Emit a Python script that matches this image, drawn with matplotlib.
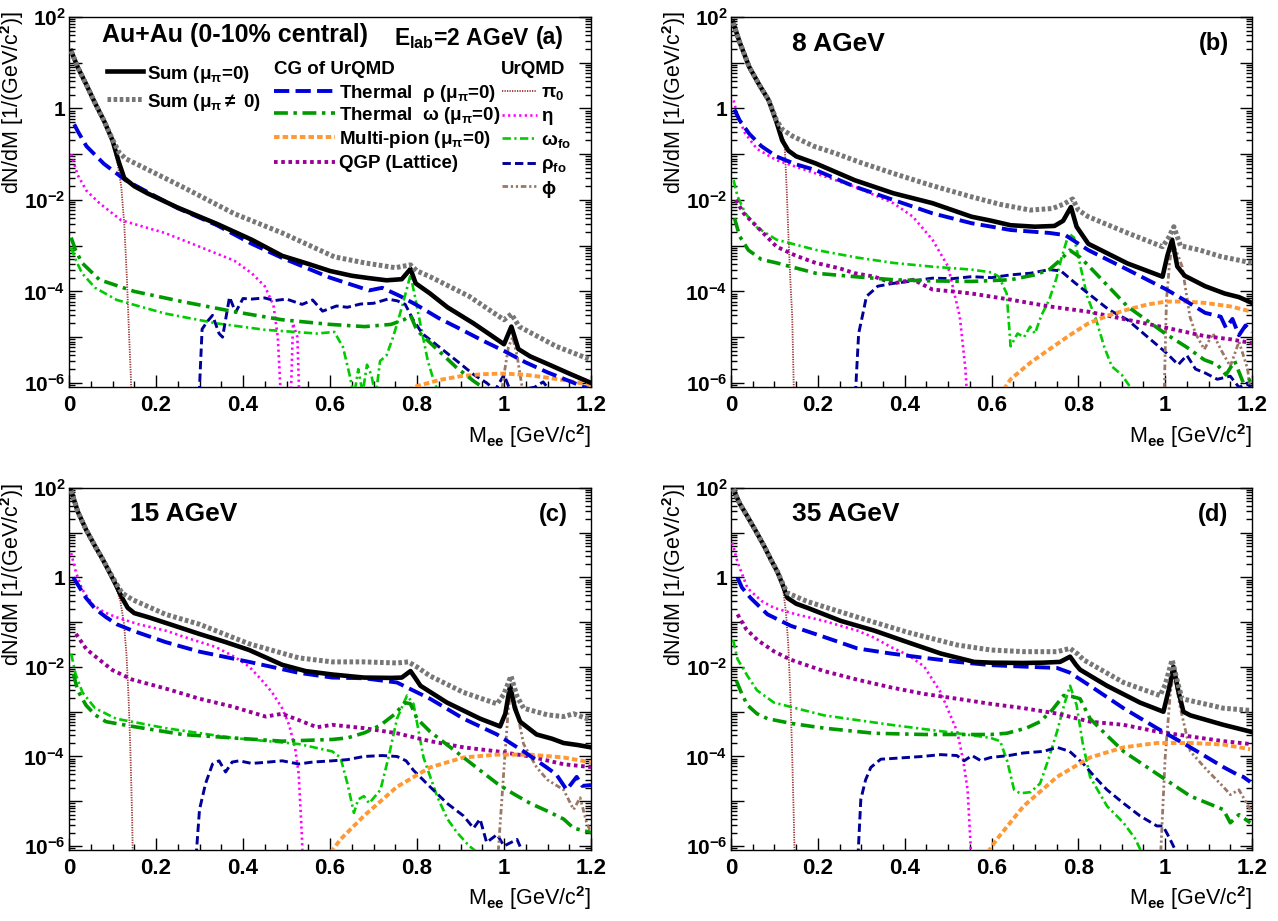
import numpy as np
import matplotlib
matplotlib.use("Agg")
import matplotlib.pyplot as plt
from matplotlib.lines import Line2D
from matplotlib.ticker import FixedLocator, MultipleLocator, FuncFormatter, NullFormatter

plt.rcParams.update({
    "font.family": ["Liberation Sans", "DejaVu Sans"],
    "font.weight": "bold",
    "mathtext.fontset": "custom",
    "mathtext.rm": "Liberation Sans:bold",
    "mathtext.it": "Liberation Sans:bold:italic",
    "mathtext.bf": "Liberation Sans:bold",
    "mathtext.sf": "Liberation Sans:bold",
    "mathtext.default": "rm",
    "lines.scale_dashes": False,
    "axes.linewidth": 1.0,
})

# ---------------- data: panel (a) 2 AGeV ----------------
m_sum0_a = [0.005, 0.02, 0.04, 0.06, 0.08, 0.10, 0.115, 0.127, 0.15, 0.18, 0.25, 0.34, 0.42, 0.49, 0.55, 0.60, 0.65, 0.69, 0.73, 0.765, 0.785, 0.797, 0.83, 0.87, 0.93, 0.97, 1.0, 1.017, 1.033, 1.06, 1.1, 1.15, 1.2]
y_sum0_a = [18, 8.0, 3.3, 1.3, 0.55, 0.2, 0.065, 0.03, 0.02, 0.014, 6.8e-3, 3.0e-3, 1.35e-3, 6.0e-4, 4.0e-4, 2.8e-4, 2.2e-4, 1.95e-4, 1.75e-4, 1.85e-4, 3.1e-4, 1.5e-4, 9.0e-5, 4.5e-5, 2.0e-5, 1.1e-5, 7e-6, 1.7e-5, 5.5e-6, 3.8e-6, 2.6e-6, 1.6e-6, 1.0e-6]
m_sumx_a = [0.005, 0.02, 0.04, 0.06, 0.08, 0.10, 0.115, 0.13, 0.17, 0.26, 0.38, 0.49, 0.61, 0.68, 0.75, 0.785, 0.80, 0.83, 0.92, 1.0, 1.017, 1.035, 1.12, 1.2]
y_sumx_a = [18, 8.0, 3.3, 1.3, 0.55, 0.21, 0.11, 0.08, 0.052, 0.0195, 5.0e-3, 1.9e-3, 5.7e-4, 4.2e-4, 3.3e-4, 3.8e-4, 2.8e-4, 2.1e-4, 7.8e-5, 2.4e-5, 3.2e-5, 1.7e-5, 6.3e-6, 3.2e-6]
m_thr_rho_a = [0.012, 0.02, 0.04, 0.08, 0.13, 0.18, 0.25, 0.34, 0.42, 0.49, 0.60, 0.65, 0.69, 0.72, 0.76, 0.80, 0.85, 0.90, 0.95, 1.0, 1.05, 1.1, 1.15, 1.2]
y_thr_rho_a = [0.45, 0.32, 0.15, 0.062, 0.027, 0.015, 6.6e-3, 2.8e-3, 1.1e-3, 5.4e-4, 2.0e-4, 1.4e-4, 1.05e-4, 1.2e-4, 8e-5, 5e-5, 2.6e-5, 1.5e-5, 8.5e-6, 5e-6, 2.8e-6, 1.7e-6, 1.1e-6, 7e-7]
m_thr_omega_a = [0.005, 0.015, 0.03, 0.07, 0.15, 0.26, 0.38, 0.49, 0.60, 0.68, 0.74, 0.77, 0.785, 0.80, 0.85, 0.89, 0.93, 0.97]
y_thr_omega_a = [1.5e-3, 8e-4, 4.2e-4, 1.8e-4, 1.0e-4, 6e-5, 3.6e-5, 2.4e-5, 1.9e-5, 1.7e-5, 1.9e-5, 2.4e-5, 3e-5, 1.4e-5, 5e-6, 2.2e-6, 1.1e-6, 6e-7]
m_omega_fo_a = [0.005, 0.015, 0.03, 0.06, 0.11, 0.22, 0.34, 0.45, 0.57, 0.61, 0.63, 0.645, 0.655, 0.665, 0.675, 0.685, 0.695, 0.705, 0.715, 0.73, 0.745, 0.76, 0.775, 0.785, 0.795, 0.81, 0.825, 0.84, 0.86]
y_omega_fo_a = [9e-4, 5e-4, 2.5e-4, 1.2e-4, 6.5e-5, 3.3e-5, 2e-5, 1.45e-5, 1.2e-5, 1.3e-5, 6e-6, 1.5e-6, 5e-7, 2e-6, 6e-7, 2.5e-6, 1.5e-6, 5e-7, 3e-6, 4e-6, 1e-5, 3e-5, 1e-4, 2.3e-4, 8e-5, 1.5e-5, 3e-6, 1e-6, 4e-7]
m_eta_a = [0.005, 0.02, 0.04, 0.07, 0.12, 0.22, 0.30, 0.38, 0.42, 0.45, 0.47, 0.48, 0.487, 0.50, 0.51, 0.515, 0.525, 0.53]
y_eta_a = [0.1, 0.035, 0.016, 8.5e-3, 3.6e-3, 1.9e-3, 9.5e-4, 4.7e-4, 2.5e-4, 1.3e-4, 5e-5, 1e-5, 5e-7, 3e-7, 5e-7, 2e-5, 1e-5, 3e-7]
m_pi0_a = [0.005, 0.02, 0.04, 0.06, 0.08, 0.10, 0.112, 0.12, 0.127, 0.133, 0.138, 0.142, 0.146]
y_pi0_a = [17.5, 7.8, 3.2, 1.25, 0.52, 0.18, 0.06, 0.02, 3e-3, 2e-4, 1.2e-5, 1.5e-6, 1e-7]
m_rho_fo_a = [0.298, 0.306, 0.318, 0.33, 0.345, 0.353, 0.369, 0.383, 0.40, 0.42, 0.45, 0.472, 0.50, 0.536, 0.56, 0.583, 0.615, 0.64, 0.67, 0.70, 0.733, 0.755, 0.773, 0.79, 0.812, 0.852, 0.892, 0.931, 0.96, 0.98, 1.0, 1.02, 1.05, 1.07, 1.09, 1.11, 1.13]
y_rho_fo_a = [3e-7, 1.5e-5, 2.2e-5, 3e-5, 1.2e-5, 1e-5, 7.5e-5, 3.5e-5, 7e-5, 6.8e-5, 7.2e-5, 6.3e-5, 6.8e-5, 5.2e-5, 6.5e-5, 3.7e-5, 4.8e-5, 4.5e-5, 5.3e-5, 5.5e-5, 6.8e-5, 6.2e-5, 5.2e-5, 2.5e-5, 1.2e-5, 6e-6, 3e-6, 1.5e-6, 1e-6, 7e-7, 1.5e-6, 5e-7, 7.4e-7, 8e-7, 1.05e-6, 6e-7, 4e-7]
m_multipi_a = [0.76, 0.80, 0.85, 0.90, 0.95, 1.0, 1.05, 1.10, 1.15, 1.2]
y_multipi_a = [6e-7, 8.5e-7, 1.15e-6, 1.4e-6, 1.55e-6, 1.6e-6, 1.5e-6, 1.3e-6, 1.1e-6, 9e-7]
m_phi_a = [0.99, 1.0, 1.01, 1.02, 1.03, 1.04, 1.05]
y_phi_a = [3e-7, 1.5e-6, 6e-6, 1.0e-5, 4e-6, 1e-6, 3e-7]

# ---------------- data: panel (b) 8 AGeV ----------------
m_sum0_b = [0.005, 0.02, 0.042, 0.065, 0.087, 0.105, 0.118, 0.132, 0.15, 0.195, 0.285, 0.374, 0.464, 0.554, 0.60, 0.644, 0.70, 0.745, 0.765, 0.783, 0.796, 0.823, 0.913, 0.994, 1.005, 1.016, 1.028, 1.045, 1.092, 1.137, 1.17, 1.2]
y_sum0_b = [75, 28, 8.1, 3.3, 1.5, 0.5, 0.2, 0.12, 0.09, 0.063, 0.027, 0.014, 8.5e-3, 4.3e-3, 3.5e-3, 2.8e-3, 2.6e-3, 2.7e-3, 3.5e-3, 7e-3, 2.6e-3, 1.1e-3, 4.1e-4, 2.1e-4, 6e-4, 1.35e-3, 3.5e-4, 2.2e-4, 1.3e-4, 9e-5, 7.5e-5, 5.6e-5]
m_sumx_b = [0.005, 0.02, 0.042, 0.065, 0.087, 0.105, 0.118, 0.141, 0.19, 0.24, 0.30, 0.374, 0.46, 0.554, 0.62, 0.689, 0.74, 0.765, 0.787, 0.80, 0.823, 0.87, 0.913, 0.994, 1.008, 1.02, 1.035, 1.08, 1.128, 1.2]
y_sumx_b = [75, 28, 8.1, 3.3, 1.5, 0.55, 0.35, 0.25, 0.15, 0.105, 0.065, 0.038, 0.021, 0.0117, 8e-3, 6e-3, 6.5e-3, 8e-3, 0.0105, 6e-3, 4.3e-3, 2.8e-3, 1.9e-3, 9.5e-4, 1.5e-3, 2.6e-3, 1.0e-3, 8e-4, 5.8e-4, 4.2e-4]
m_thr_rho_b = [0.008, 0.02, 0.042, 0.07, 0.105, 0.15, 0.195, 0.285, 0.374, 0.464, 0.554, 0.644, 0.733, 0.77, 0.823, 0.913, 1.003, 1.05, 1.092, 1.128, 1.14, 1.155, 1.17, 1.185, 1.2]
y_thr_rho_b = [0.95, 0.55, 0.28, 0.15, 0.089, 0.06, 0.045, 0.0195, 0.01, 5.1e-3, 3.1e-3, 2.2e-3, 1.9e-3, 1.7e-3, 8e-4, 3e-4, 1.1e-4, 6e-5, 3.4e-5, 2.8e-5, 1.6e-5, 2.5e-5, 1.1e-5, 1.8e-5, 1.3e-5]
m_thr_omega_b = [0.008, 0.02, 0.04, 0.07, 0.105, 0.195, 0.285, 0.374, 0.46, 0.554, 0.644, 0.70, 0.733, 0.76, 0.78, 0.805, 0.84, 0.913, 1.0, 1.05, 1.09, 1.12, 1.14, 1.16, 1.18, 1.2]
y_thr_omega_b = [4e-3, 1.6e-3, 8e-4, 5e-4, 4.2e-4, 2.5e-4, 2.1e-4, 1.8e-4, 1.7e-4, 1.65e-4, 1.8e-4, 2.3e-4, 3e-4, 5e-4, 8e-4, 5.5e-4, 2.5e-4, 4.7e-5, 1.2e-5, 6e-6, 3.2e-6, 2.5e-6, 1.5e-6, 3e-6, 1e-6, 1.2e-6]
m_omega_fo_b = [0.006, 0.015, 0.033, 0.06, 0.105, 0.195, 0.29, 0.374, 0.46, 0.554, 0.60, 0.617, 0.635, 0.644, 0.66, 0.675, 0.689, 0.70, 0.715, 0.733, 0.75, 0.76, 0.778, 0.79, 0.805, 0.82, 0.841, 0.86, 0.877, 0.90, 0.92, 0.95, 0.965]
y_omega_fo_b = [0.027, 0.012, 5.1e-3, 2.5e-3, 1.35e-3, 8.1e-4, 5.5e-4, 4.2e-4, 3.5e-4, 3e-4, 2.6e-4, 2.1e-4, 9e-5, 6.3e-6, 1.2e-5, 1e-5, 1.7e-5, 1.2e-5, 3e-5, 6.6e-5, 2e-4, 4.9e-4, 1.85e-3, 1.5e-3, 3.5e-4, 8e-5, 2.4e-5, 6e-6, 2.3e-6, 1.5e-6, 8e-7, 6e-7, 3e-7]
m_eta_b = [0.006, 0.015, 0.033, 0.06, 0.105, 0.195, 0.285, 0.374, 0.419, 0.464, 0.50, 0.527, 0.54, 0.548]
y_eta_b = [1.5, 0.7, 0.28, 0.13, 0.074, 0.038, 0.0195, 8.5e-3, 4.3e-3, 1.35e-3, 3.5e-4, 2.8e-5, 2e-6, 1e-7]
m_pi0_b = [0.005, 0.02, 0.042, 0.065, 0.087, 0.105, 0.115, 0.123, 0.128, 0.132, 0.137, 0.141, 0.145]
y_pi0_b = [74, 27.5, 8.0, 3.2, 1.45, 0.45, 0.25, 0.2, 0.02, 1.9e-3, 1.5e-4, 2.8e-5, 5e-7]
m_qgp_b = [0.011, 0.03, 0.06, 0.105, 0.15, 0.195, 0.25, 0.285, 0.33, 0.374, 0.42, 0.464, 0.51, 0.554, 0.644, 0.733, 0.823, 0.913, 1.003, 1.092, 1.15, 1.2]
y_qgp_b = [0.01, 5e-3, 2.6e-3, 9.5e-4, 6e-4, 4.2e-4, 3.2e-4, 2.5e-4, 2.1e-4, 1.5e-4, 1.8e-4, 1.1e-4, 1.0e-4, 9e-5, 6.6e-5, 4.7e-5, 3.6e-5, 2.4e-5, 1.6e-5, 1.05e-5, 9e-6, 7.4e-6]
m_rho_fo_b = [0.285, 0.294, 0.303, 0.312, 0.325, 0.338, 0.374, 0.42, 0.464, 0.51, 0.554, 0.60, 0.644, 0.69, 0.733, 0.76, 0.79, 0.823, 0.87, 0.913, 0.96, 1.003, 1.03, 1.05, 1.07, 1.092, 1.12, 1.15, 1.17, 1.19, 1.2]
y_rho_fo_b = [3e-7, 1.2e-5, 3e-5, 7.8e-5, 1e-4, 1.3e-4, 1.5e-4, 1.7e-4, 1.95e-4, 1.9e-4, 2.1e-4, 2.0e-4, 2.3e-4, 2.5e-4, 3e-4, 2.8e-4, 1.6e-4, 9e-5, 4e-5, 2.4e-5, 1e-5, 4.5e-6, 2.5e-6, 4e-6, 2e-6, 1.65e-6, 1.2e-6, 1.4e-6, 8e-7, 1e-6, 7e-7]
m_multipi_b = [0.617, 0.644, 0.69, 0.733, 0.78, 0.823, 0.87, 0.913, 0.96, 1.003, 1.05, 1.092, 1.15, 1.2]
y_multipi_b = [5e-7, 1.2e-6, 2.8e-6, 5.4e-6, 1.1e-5, 2e-5, 3e-5, 4e-5, 5.2e-5, 6e-5, 6e-5, 5.6e-5, 4.7e-5, 3.6e-5]
m_phi_b = [0.997, 1.003, 1.01, 1.016, 1.022, 1.03, 1.039, 1.048, 1.057, 1.07, 1.09, 1.11, 1.13, 1.15, 1.17, 1.19, 1.2]
y_phi_b = [3e-7, 6.6e-5, 4e-4, 1.1e-3, 9e-4, 6e-4, 3.5e-4, 1e-4, 2.8e-5, 1.2e-5, 5.4e-6, 1.2e-5, 5e-6, 2.3e-6, 8e-6, 2e-6, 3e-7]

# ---------------- data: panel (c) 15 AGeV ----------------
m_sum0_c = [0.005, 0.02, 0.039, 0.06, 0.077, 0.095, 0.108, 0.122, 0.135, 0.15, 0.184, 0.24, 0.299, 0.36, 0.414, 0.49, 0.544, 0.605, 0.678, 0.74, 0.765, 0.785, 0.797, 0.808, 0.869, 0.945, 0.991, 1.003, 1.014, 1.025, 1.037, 1.075, 1.11, 1.137, 1.17, 1.2]
y_sum0_c = [87, 30, 11.8, 5.0, 2.6, 1.2, 0.68, 0.35, 0.21, 0.16, 0.128, 0.085, 0.055, 0.036, 0.024, 0.0112, 8.1e-3, 6.8e-3, 5.8e-3, 5.7e-3, 5.8e-3, 8.1e-3, 5.5e-3, 3.8e-3, 1.6e-3, 7e-4, 4.7e-4, 9e-4, 3.8e-3, 1.2e-3, 6e-4, 3.1e-4, 2.5e-4, 2e-4, 1.8e-4, 1.6e-4]
m_sumx_c = [0.005, 0.02, 0.039, 0.06, 0.077, 0.095, 0.108, 0.122, 0.146, 0.222, 0.30, 0.414, 0.528, 0.605, 0.678, 0.754, 0.78, 0.80, 0.83, 0.907, 0.984, 1.0, 1.016, 1.03, 1.045, 1.1, 1.137, 1.16, 1.2]
y_sumx_c = [87, 30, 11.8, 5.0, 2.6, 1.25, 0.75, 0.45, 0.32, 0.15, 0.09, 0.033, 0.016, 0.013, 0.013, 0.0123, 0.013, 0.01, 6.3e-3, 2.7e-3, 1.5e-3, 2.5e-3, 6.3e-3, 2.2e-3, 1.2e-3, 8.5e-4, 7.8e-4, 9e-4, 6.5e-4]
m_thr_rho_c = [0.01, 0.02, 0.039, 0.06, 0.085, 0.11, 0.146, 0.222, 0.30, 0.414, 0.528, 0.605, 0.678, 0.754, 0.83, 0.907, 0.984, 1.045, 1.098, 1.12, 1.144, 1.167, 1.18, 1.2]
y_thr_rho_c = [1.0, 0.7, 0.35, 0.2, 0.13, 0.09, 0.065, 0.036, 0.022, 0.013, 7.4e-3, 5.8e-3, 5.6e-3, 4.5e-3, 1.95e-3, 7e-4, 3.1e-4, 1.3e-4, 5.7e-5, 4e-5, 1.8e-5, 3.5e-5, 2.2e-5, 2.3e-5]
m_thr_omega_c = [0.01, 0.02, 0.039, 0.06, 0.085, 0.146, 0.261, 0.376, 0.49, 0.605, 0.64, 0.68, 0.716, 0.75, 0.772, 0.785, 0.80, 0.83, 0.87, 0.907, 0.95, 0.984, 1.02, 1.06, 1.1, 1.137, 1.16, 1.2]
y_thr_omega_c = [7e-3, 3e-3, 1.4e-3, 8.5e-4, 6e-4, 4.7e-4, 3.1e-4, 2.6e-4, 2.2e-4, 2.4e-4, 2.6e-4, 3.4e-4, 5e-4, 9e-4, 1.6e-3, 1.5e-3, 7e-4, 3.6e-4, 1.8e-4, 9.5e-5, 4.5e-5, 2.5e-5, 1.5e-5, 9e-6, 6e-6, 4e-6, 2.5e-6, 2e-6]
m_omega_fo_c = [0.005, 0.015, 0.031, 0.06, 0.108, 0.222, 0.376, 0.528, 0.605, 0.624, 0.64, 0.655, 0.665, 0.678, 0.69, 0.716, 0.735, 0.754, 0.777, 0.792, 0.815, 0.846, 0.87, 0.892, 0.92, 0.94, 0.96]
y_omega_fo_c = [0.02, 7e-3, 2.7e-3, 1.2e-3, 7e-4, 4.3e-4, 2.6e-4, 1.9e-4, 1.3e-4, 9.5e-5, 2.5e-5, 5.5e-6, 1.1e-5, 1.3e-5, 9e-6, 1.8e-5, 1e-4, 7e-4, 2.3e-3, 1.5e-3, 9.5e-5, 1.3e-5, 4e-6, 2e-6, 1e-6, 7e-7, 3e-7]
m_eta_c = [0.005, 0.016, 0.03, 0.054, 0.08, 0.108, 0.16, 0.222, 0.28, 0.337, 0.38, 0.414, 0.44, 0.467, 0.49, 0.506, 0.52, 0.528, 0.535, 0.54]
y_eta_c = [3.5, 1.3, 0.55, 0.25, 0.17, 0.13, 0.09, 0.065, 0.042, 0.028, 0.017, 0.0102, 5.5e-3, 2.7e-3, 1.2e-3, 5.1e-4, 1.5e-4, 4.1e-5, 2e-6, 1e-7]
m_pi0_c = [0.005, 0.02, 0.039, 0.06, 0.077, 0.095, 0.108, 0.118, 0.126, 0.132, 0.137, 0.141, 0.145, 0.148]
y_pi0_c = [86, 29.5, 11.5, 4.9, 2.5, 1.15, 0.6, 0.3, 0.1, 0.02, 2e-3, 1.5e-4, 5e-6, 1e-7]
m_qgp_c = [0.016, 0.04, 0.07, 0.1, 0.146, 0.222, 0.30, 0.376, 0.452, 0.49, 0.528, 0.57, 0.605, 0.678, 0.754, 0.83, 0.907, 0.984, 1.06, 1.137, 1.2]
y_qgp_c = [0.055, 0.025, 0.0145, 8.5e-3, 5.2e-3, 3.3e-3, 1.95e-3, 1.3e-3, 7.8e-4, 9e-4, 6.5e-4, 4.5e-4, 5.1e-4, 4.3e-4, 3.3e-4, 2.2e-4, 1.6e-4, 1.3e-4, 1.0e-4, 6.7e-5, 5.8e-5]
m_rho_fo_c = [0.29, 0.30, 0.314, 0.33, 0.345, 0.36, 0.375, 0.391, 0.42, 0.452, 0.49, 0.528, 0.56, 0.605, 0.64, 0.678, 0.72, 0.754, 0.775, 0.792, 0.83, 0.869, 0.907, 0.93, 0.945, 0.96, 0.984, 1.0, 1.03, 1.05, 1.07]
y_rho_fo_c = [3e-7, 6.5e-6, 2.5e-5, 6.8e-5, 8e-5, 4.5e-5, 7.5e-5, 8e-5, 7e-5, 7.4e-5, 8e-5, 6.8e-5, 7.5e-5, 8e-5, 8.5e-5, 1e-4, 1.05e-4, 1e-4, 8e-5, 4.9e-5, 2.1e-5, 9e-6, 4.7e-6, 2.5e-6, 4e-6, 1.2e-6, 1.8e-6, 1e-6, 1.4e-6, 5e-7, 3e-7]
m_multipi_c = [0.59, 0.624, 0.678, 0.754, 0.83, 0.907, 0.984, 1.06, 1.137, 1.2]
y_multipi_c = [5e-7, 1.4e-6, 4.7e-6, 2.1e-5, 5.7e-5, 9.5e-5, 1.1e-4, 1.1e-4, 9.5e-5, 7.4e-5]
m_phi_c = [0.984, 0.999, 1.01, 1.018, 1.03, 1.045, 1.075, 1.1, 1.137, 1.16, 1.175, 1.19, 1.2]
y_phi_c = [3e-7, 4e-5, 1.2e-3, 3.5e-3, 1e-3, 1.9e-4, 5.7e-5, 3e-5, 1.8e-5, 6.5e-6, 1.2e-5, 3.3e-6, 2e-6]

# ---------------- data: panel (d) 35 AGeV ----------------
m_sum0_d = [0.005, 0.02, 0.038, 0.057, 0.076, 0.092, 0.107, 0.12, 0.13, 0.15, 0.176, 0.253, 0.33, 0.406, 0.483, 0.56, 0.598, 0.674, 0.72, 0.758, 0.781, 0.795, 0.804, 0.866, 0.942, 0.996, 1.008, 1.019, 1.03, 1.042, 1.058, 1.134, 1.196]
y_sum0_d = [95, 45, 23, 11, 5.1, 2.5, 1.33, 0.65, 0.35, 0.26, 0.21, 0.107, 0.065, 0.036, 0.02, 0.013, 0.0125, 0.0123, 0.0125, 0.013, 0.017, 0.011, 8.7e-3, 3.8e-3, 1.6e-3, 1e-3, 3e-3, 0.0102, 3e-3, 1e-3, 8.3e-4, 5.1e-4, 3.6e-4]
m_sumx_d = [0.005, 0.02, 0.038, 0.057, 0.076, 0.092, 0.107, 0.12, 0.13, 0.176, 0.291, 0.406, 0.521, 0.598, 0.674, 0.751, 0.781, 0.80, 0.812, 0.904, 0.988, 1.0, 1.016, 1.03, 1.039, 1.134, 1.196]
y_sumx_d = [95, 45, 23, 11, 5.1, 2.5, 1.35, 0.7, 0.45, 0.29, 0.13, 0.06, 0.031, 0.024, 0.022, 0.022, 0.026, 0.019, 0.0145, 4.5e-3, 2.3e-3, 4e-3, 0.0145, 4e-3, 1.95e-3, 1.2e-3, 1.07e-3]
m_thr_rho_d = [0.015, 0.025, 0.045, 0.084, 0.138, 0.214, 0.291, 0.368, 0.445, 0.521, 0.598, 0.674, 0.751, 0.78, 0.827, 0.904, 0.981, 1.058, 1.134, 1.165, 1.18, 1.196]
y_thr_rho_d = [1.0, 0.6, 0.35, 0.15, 0.083, 0.047, 0.026, 0.02, 0.016, 0.013, 0.011, 0.0102, 9.5e-3, 7.5e-3, 3.8e-3, 1.2e-3, 4.3e-4, 1.6e-4, 5.8e-5, 4e-5, 3.5e-5, 2.7e-5]
m_thr_omega_d = [0.012, 0.025, 0.038, 0.06, 0.084, 0.138, 0.214, 0.33, 0.445, 0.598, 0.635, 0.68, 0.712, 0.74, 0.766, 0.785, 0.804, 0.827, 0.87, 0.904, 0.981, 1.058, 1.134, 1.15, 1.17, 1.196]
y_thr_omega_d = [5e-3, 2.5e-3, 1.4e-3, 9e-4, 7e-4, 5.5e-4, 4.3e-4, 3.3e-4, 3.1e-4, 3.1e-4, 3.3e-4, 4.3e-4, 6e-4, 1.1e-3, 2.3e-3, 2.2e-3, 1.95e-3, 7e-4, 2.7e-4, 1.3e-4, 4.1e-5, 1.3e-5, 6.5e-6, 3.3e-6, 5e-6, 3.3e-6]
m_omega_fo_d = [0.005, 0.015, 0.038, 0.06, 0.099, 0.214, 0.368, 0.521, 0.598, 0.62, 0.636, 0.652, 0.666, 0.69, 0.712, 0.73, 0.751, 0.768, 0.781, 0.796, 0.81, 0.827, 0.866, 0.904, 0.93, 0.95]
y_omega_fo_d = [0.04, 0.015, 6.3e-3, 3e-3, 1.6e-3, 8.3e-4, 5.1e-4, 3.3e-4, 2.6e-4, 2.2e-4, 8e-5, 1.8e-5, 1.5e-5, 1.6e-5, 2.5e-5, 8e-5, 3.6e-4, 1.5e-3, 3.8e-3, 1.4e-3, 2e-4, 3.5e-5, 7.8e-6, 3.3e-6, 1.5e-6, 6e-7]
m_eta_d = [0.003, 0.015, 0.038, 0.07, 0.099, 0.15, 0.214, 0.291, 0.33, 0.368, 0.41, 0.445, 0.483, 0.521, 0.535, 0.545, 0.552, 0.556]
y_eta_d = [6.0, 2.2, 0.58, 0.3, 0.21, 0.15, 0.107, 0.065, 0.045, 0.028, 0.018, 0.0102, 2.7e-3, 3.6e-4, 8e-5, 1.8e-5, 1e-6, 1e-7]
m_pi0_d = [0.005, 0.02, 0.038, 0.057, 0.076, 0.092, 0.107, 0.12, 0.127, 0.132, 0.137, 0.141, 0.145, 0.148]
y_pi0_d = [94, 44, 22.5, 10.5, 5.0, 2.4, 1.3, 0.55, 0.15, 0.03, 2e-3, 1e-4, 3e-6, 1e-7]
m_qgp_d = [0.015, 0.035, 0.061, 0.1, 0.138, 0.214, 0.291, 0.368, 0.445, 0.521, 0.598, 0.674, 0.751, 0.827, 0.904, 0.981, 1.058, 1.134, 1.196]
y_qgp_d = [0.15, 0.07, 0.04, 0.022, 0.0145, 8.1e-3, 5.2e-3, 3.5e-3, 2.5e-3, 1.95e-3, 1.5e-3, 1.2e-3, 9.1e-4, 6e-4, 5.1e-4, 3.6e-4, 2.8e-4, 2.2e-4, 1.9e-4]
m_rho_fo_d = [0.291, 0.299, 0.31, 0.322, 0.345, 0.37, 0.406, 0.44, 0.483, 0.52, 0.537, 0.555, 0.575, 0.598, 0.64, 0.674, 0.72, 0.751, 0.78, 0.812, 0.84, 0.866, 0.904, 0.942, 0.981, 0.995, 1.01, 1.03, 1.05]
y_rho_fo_d = [3e-7, 1.1e-5, 3e-5, 5.7e-5, 8.7e-5, 9e-5, 9.5e-5, 1.0e-4, 1.1e-4, 1.05e-4, 8e-5, 1.05e-4, 8.1e-5, 9.5e-5, 1.05e-4, 1.2e-4, 1.3e-4, 1.6e-4, 1.3e-4, 6.8e-5, 3.3e-5, 1.8e-5, 9e-6, 4.7e-6, 2.8e-6, 2.8e-6, 1.5e-6, 6e-7, 3e-7]
m_multipi_d = [0.58, 0.612, 0.674, 0.751, 0.827, 0.904, 0.981, 1.058, 1.134, 1.196]
y_multipi_d = [5e-7, 1.4e-6, 7.8e-6, 3.5e-5, 9.5e-5, 1.6e-4, 2e-4, 2e-4, 1.85e-4, 1.45e-4]
m_phi_d = [0.988, 1.0, 1.012, 1.02, 1.035, 1.058, 1.096, 1.134, 1.15, 1.17, 1.196]
y_phi_d = [3e-7, 9.5e-5, 2.7e-3, 8e-3, 1.2e-3, 1.3e-4, 5e-5, 2.1e-5, 1.4e-5, 1.8e-5, 6.5e-6]

# panel labels / ticks
energy_labels = ["", "8 AGeV", "15 AGeV", "35 AGeV"]
panel_tags = ["(a)", "(b)", "(c)", "(d)"]
x_ticks = [0, 0.2, 0.4, 0.6, 0.8, 1.0, 1.2]
y_decades = [-6, -5, -4, -3, -2, -1, 0, 1, 2]

# ---------------- styles ----------------
STYLE = {
    "pi0":       dict(color="#993333", lw=1.3, dashes=(0.9, 0.9), zorder=3),
    "eta":       dict(color="#ff00ff", lw=1.9, dashes=(1.6, 2.4), zorder=3),
    "omega_fo":  dict(color="#00cc00", lw=1.9, dashes=(6, 2.5, 1.6, 2.5), zorder=3),
    "rho_fo":    dict(color="#000099", lw=2.1, dashes=(6, 3), zorder=3),
    "phi":       dict(color="#9a7766", lw=2.0, dashes=(4, 2, 1.6, 2, 1.6, 2), zorder=3),
    "qgp":       dict(color="#990099", lw=2.8, dashes=(2.6, 2.6), zorder=4),
    "multipi":   dict(color="#ff9933", lw=2.8, dashes=(4, 2.2), zorder=4),
    "thr_omega": dict(color="#009900", lw=2.6, dashes=(10, 4, 2.5, 4), zorder=5),
    "thr_rho":   dict(color="#0000dd", lw=2.8, dashes=(11, 4.5), zorder=6),
    "sum0":      dict(color="black", lw=3.3, ls="-", zorder=8),
    "sumx":      dict(color="#777777", lw=3.6, dashes=(2.6, 1.8), zorder=9),
}
ORDER = ["pi0", "eta", "omega_fo", "rho_fo", "phi", "qgp", "multipi",
         "thr_omega", "thr_rho", "sum0", "sumx"]

g = globals()
PANELS = []
for p in "abcd":
    d = {}
    for k in ORDER:
        if ("m_%s_%s" % (k, p)) in g:
            d[k] = (g["m_%s_%s" % (k, p)], g["y_%s_%s" % (k, p)])
    PANELS.append(d)

W, H = 1278, 921
fig = plt.figure(figsize=(W / 100, H / 100), dpi=100)


def pos(l, r, t, b):
    return [l / W, 1 - b / H, (r - l) / W, (b - t) / H]


boxes = [pos(69, 591, 17, 387), pos(731, 1252, 17, 387),
         pos(69, 591, 488, 850), pos(731, 1252, 488, 850)]
YMIN = 10 ** -6.09

major_y = [10.0 ** e for e in y_decades]
minor_y = [s * 10.0 ** e for e in range(-7, 2) for s in range(2, 10)
           if YMIN <= s * 10.0 ** e <= 100]


def yfmt(v, p):
    e = int(round(np.log10(v)))
    if e % 2:
        return ""
    if e == 0:
        return "1"
    return r"$10^{%d}$" % e


axes = []
for i, box in enumerate(boxes):
    ax = fig.add_axes(box)
    axes.append(ax)
    for k in ORDER:
        if k in PANELS[i]:
            m, y = PANELS[i][k]
            ax.plot(m, y, **STYLE[k])
    ax.set_xlim(0, 1.2)
    ax.set_yscale("log")
    ax.set_ylim(YMIN, 100)
    ax.set_xticks(x_ticks)
    ax.xaxis.set_minor_locator(MultipleLocator(0.05))
    ax.xaxis.set_major_formatter(FuncFormatter(lambda v, p: "%g" % round(v, 2)))
    ax.yaxis.set_major_locator(FixedLocator(major_y))
    ax.yaxis.set_minor_locator(FixedLocator(minor_y))
    ax.yaxis.set_minor_formatter(NullFormatter())
    ax.yaxis.set_major_formatter(FuncFormatter(yfmt))
    ax.tick_params(which="both", direction="in", top=False, right=True)
    ax.tick_params(axis="x", labelsize=16, pad=6)
    ax.tick_params(axis="y", labelsize=15, pad=2.5)
    ax.tick_params(which="major", length=9, width=1)
    ax.tick_params(which="minor", length=4.5, width=1)
    ax.set_ylabel(r"dN/dM [1/(GeV/c$^{2}$)]", fontsize=15.5, loc="top")
    ax.yaxis.set_label_coords(-0.082, 1.015)
    ax.set_xlabel(r"M$_{ee}$ [GeV/c$^{2}$]", fontsize=15.5, loc="right")
    ax.xaxis.set_label_coords(1.0, -0.095)
    if i > 0:
        ax.text(0.117, 0.928, energy_labels[i], transform=ax.transAxes,
                fontsize=19, ha="left", va="center")
        ax.text(0.955, 0.928, panel_tags[i], transform=ax.transAxes,
                fontsize=17, ha="right", va="center")

# ---------------- panel (a) header and legend ----------------
axa = axes[0]
axa.text(0.063, 0.951, "Au+Au (0-10% central)", transform=axa.transAxes,
         fontsize=18, ha="left", va="center")
axa.text(0.623, 0.951, r"E$_{lab}$=2 AGeV", transform=axa.transAxes,
         fontsize=16.5, ha="left", va="center_baseline")
axa.text(0.948, 0.951, panel_tags[0], transform=axa.transAxes,
         fontsize=16.5, ha="right", va="center_baseline")

LEG_FS = 13.5


def legend_entry(ax, x0, x1, y, key, label):
    st = dict(STYLE[key])
    st.pop("zorder", None)
    ln = Line2D([x0, x1], [y, y], transform=ax.transAxes, **st)
    ax.add_line(ln)
    ax.text(x1 + 0.008, y, label, transform=ax.transAxes, fontsize=LEG_FS,
            ha="left", va="center_baseline")


legend_entry(axa, 0.073, 0.142, 0.854, "sum0", r"Sum ($\mu_{\pi}$=0)")
legend_entry(axa, 0.073, 0.142, 0.778, "sumx", r"Sum ($\mu_{\pi}\neq$ 0)")
axa.text(0.393, 0.857, "CG of UrQMD", transform=axa.transAxes, fontsize=LEG_FS,
         ha="left", va="center")
legend_entry(axa, 0.393, 0.510, 0.801, "thr_rho", r"Thermal  $\rho$ ($\mu_{\pi}$=0)")
legend_entry(axa, 0.393, 0.510, 0.741, "thr_omega", r"Thermal  $\omega$ ($\mu_{\pi}$=0)")
legend_entry(axa, 0.393, 0.510, 0.676, "multipi", r"Multi-pion ($\mu_{\pi}$=0)")
legend_entry(axa, 0.393, 0.510, 0.609, "qgp", "QGP (Lattice)")
axa.text(0.828, 0.857, "UrQMD", transform=axa.transAxes, fontsize=LEG_FS,
         ha="left", va="center")
legend_entry(axa, 0.830, 0.896, 0.800, "pi0", r"$\pi_{0}$")
legend_entry(axa, 0.830, 0.896, 0.735, "eta", r"$\eta$")
legend_entry(axa, 0.830, 0.896, 0.672, "omega_fo", r"$\omega_{fo}$")
legend_entry(axa, 0.830, 0.896, 0.605, "rho_fo", r"$\rho_{fo}$")
legend_entry(axa, 0.830, 0.896, 0.543, "phi", r"$\phi$")

fig.savefig("out.png", dpi=100)
